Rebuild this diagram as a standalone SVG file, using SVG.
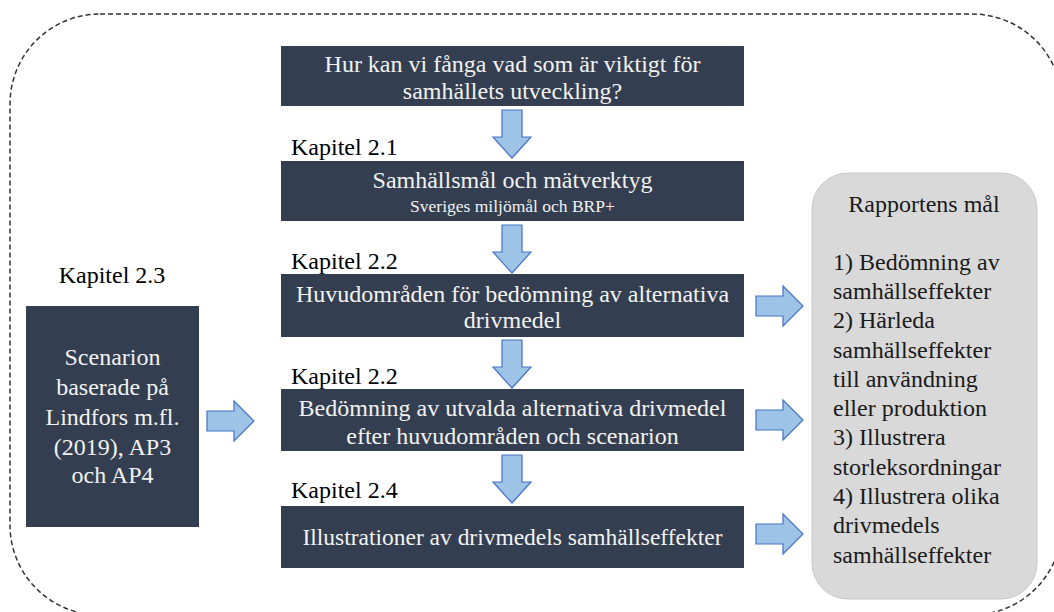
<svg xmlns="http://www.w3.org/2000/svg" width="1054" height="612" viewBox="0 0 1054 612">
  <style>
    .box { fill: #333F50; }
    .boxtext { font-size: 24px; fill: #F2F2F2; text-anchor: middle; }
    .small { font-size: 17.5px; }
    .label { font-size: 24px; fill: #000000; }
    .goal { font-size: 24px; fill: #1A1A1A; }
    .arrow { fill: #9DC3E6; stroke: #4472C4; stroke-width: 1.2; stroke-linejoin: miter; }
  </style>
  <defs>
    <!-- block arrow pointing down, tip at the bottom -->
    <path id="down" d="M -10 0 H 10 V 27 H 19 L 0 48 L -19 27 H -10 Z"/>
    <!-- block arrow pointing right -->
    <path id="right" d="M 0 -10 H 27 V -20 L 47 0 L 27 20 V 10 H 0 Z"/>
  </defs>

  <rect width="1054" height="612" fill="#FFFFFF"/>

  <!-- dashed outer frame -->
  <rect x="10" y="14" width="1052" height="601" rx="90" ry="90" fill="none" stroke="#333333" stroke-width="1.5" stroke-dasharray="5 3"/>

  <g font-family="Liberation Serif, Times New Roman, DejaVu Serif, serif">
  <g id="q-box">
    <rect class="box" x="281" y="46" width="463" height="60"/>
    <text class="boxtext" x="512.5" y="72">Hur kan vi fånga vad som är viktigt för</text>
    <text class="boxtext" x="512.5" y="99">samhällets utveckling?</text>
  </g>

  <g id="kap21">
    <text class="label" x="291" y="155">Kapitel 2.1</text>
    <rect class="box" x="281" y="161" width="463" height="60"/>
    <text class="boxtext" x="512.5" y="188">Samhällsmål och mätverktyg</text>
    <text class="boxtext small" x="512.5" y="212">Sveriges miljömål och BRP+</text>
  </g>

  <g id="kap22a">
    <text class="label" x="291" y="269">Kapitel 2.2</text>
    <rect class="box" x="281" y="274" width="463" height="63"/>
    <text class="boxtext" x="512.5" y="302">Huvudområden för bedömning av alternativa</text>
    <text class="boxtext" x="512.5" y="328">drivmedel</text>
  </g>

  <g id="kap22b">
    <text class="label" x="291" y="384">Kapitel 2.2</text>
    <rect class="box" x="281" y="389" width="463" height="62"/>
    <text class="boxtext" x="512.5" y="416">Bedömning av utvalda alternativa drivmedel</text>
    <text class="boxtext" x="512.5" y="444">efter huvudområden och scenarion</text>
  </g>

  <g id="kap24">
    <text class="label" x="291" y="498">Kapitel 2.4</text>
    <rect class="box" x="281" y="506" width="463" height="62"/>
    <text class="boxtext" x="512.5" y="545" textLength="420" lengthAdjust="spacingAndGlyphs">Illustrationer av drivmedels samhällseffekter</text>
  </g>

  <g id="kap23">
    <text class="label" x="112" y="283" text-anchor="middle">Kapitel 2.3</text>
    <rect class="box" x="26" y="306" width="173" height="221"/>
    <text class="boxtext" x="112.5" y="365">Scenarion</text>
    <text class="boxtext" x="112.5" y="395">baserade på</text>
    <text class="boxtext" x="112.5" y="425">Lindfors m.fl.</text>
    <text class="boxtext" x="112.5" y="455">(2019), AP3</text>
    <text class="boxtext" x="112.5" y="483">och AP4</text>
  </g>

  <g id="goals">
    <rect x="812" y="173" width="225" height="426" rx="36" ry="36" fill="#D9D9D9" stroke="#C8C8C8" stroke-width="1"/>
    <text class="goal" x="924" y="212" text-anchor="middle">Rapportens mål</text>
    <text class="goal" x="833" y="270">1) Bedömning av</text>
    <text class="goal" x="833" y="299">samhällseffekter</text>
    <text class="goal" x="833" y="328">2) Härleda</text>
    <text class="goal" x="833" y="358">samhällseffekter</text>
    <text class="goal" x="833" y="387">till användning</text>
    <text class="goal" x="833" y="416">eller produktion</text>
    <text class="goal" x="833" y="445">3) Illustrera</text>
    <text class="goal" x="833" y="475">storleksordningar</text>
    <text class="goal" x="833" y="504">4) Illustrera olika</text>
    <text class="goal" x="833" y="533">drivmedels</text>
    <text class="goal" x="833" y="563">samhällseffekter</text>
  </g>
  </g>

  <g id="connectors">
    <use href="#down" class="arrow" x="512" y="110"/>
    <use href="#down" class="arrow" x="512" y="225"/>
    <use href="#down" class="arrow" x="512" y="340"/>
    <use href="#down" class="arrow" x="512" y="455"/>
    <use href="#right" class="arrow" x="207" y="421"/>
    <use href="#right" class="arrow" x="756" y="306"/>
    <use href="#right" class="arrow" x="756" y="420"/>
    <use href="#right" class="arrow" x="756" y="534"/>
  </g>
</svg>
